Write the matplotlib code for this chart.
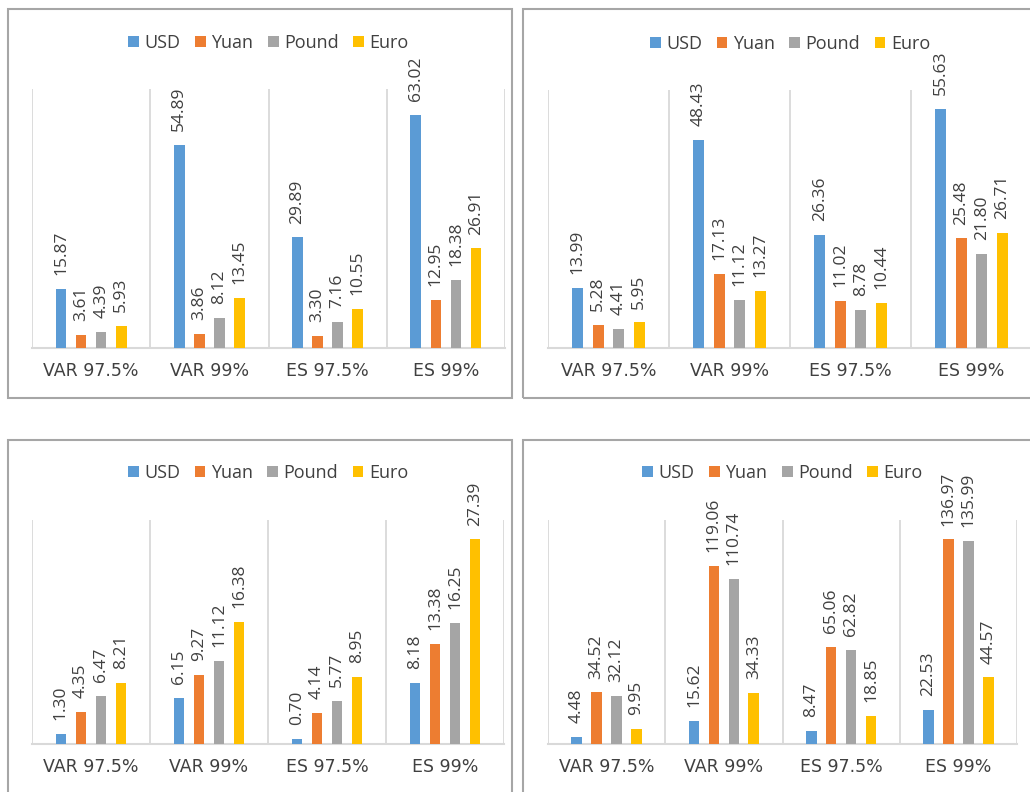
import numpy as np
import matplotlib.pyplot as plt
from matplotlib.patches import Rectangle

categories = ['VAR 97.5%', 'VAR 99%', 'ES 97.5%', 'ES 99%']
currencies = ['USD', 'Yuan', 'Pound', 'Euro']
colors = ['#5B9BD5', '#ED7D31', '#A5A5A5', '#FFC000']

# top left
tlUSD = [15.87, 54.89, 29.89, 63.02]
tlYuan = [3.61, 3.86, 3.30, 12.95]
tlPound = [4.39, 8.12, 7.16, 18.38]
tlEuro = [5.93, 13.45, 10.55, 26.91]

# top right
trUSD = [13.99, 48.43, 26.36, 55.63]
trYuan = [5.28, 17.13, 11.02, 25.48]
trPound = [4.41, 11.12, 8.78, 21.80]
trEuro = [5.95, 13.27, 10.44, 26.71]

# bottom left
blUSD = [1.30, 6.15, 0.70, 8.18]
blYuan = [4.35, 9.27, 4.14, 13.38]
blPound = [6.47, 11.12, 5.77, 16.25]
blEuro = [8.21, 16.38, 8.95, 27.39]

# bottom right
brUSD = [4.48, 15.62, 8.47, 22.53]
brYuan = [34.52, 119.06, 65.06, 136.97]
brPound = [32.12, 110.74, 62.82, 135.99]
brEuro = [9.95, 34.33, 18.85, 44.57]

W, H = 1030.0, 792.0
labelColor = '#404040'
gridColor = '#D9D9D9'


def pxAxes(fig, left, right, top, base):
  return fig.add_axes([left / W, (H - base) / H, (right - left) / W, (base - top) / H])


def drawPanel(ax, series, ymax, legendY):
  x = np.arange(len(categories))
  step = 0.17
  width = 0.09
  for i, vals in enumerate(series):
    pos = x + (i - 1.5) * step
    bars = ax.bar(pos, vals, width, color=colors[i], label=currencies[i], zorder=3)
    for b, v in zip(bars, vals):
      ax.annotate('%.2f' % v, (b.get_x() + b.get_width() / 2, v), xytext=(0, 10),
                  textcoords='offset points', rotation=90, ha='center', va='bottom',
                  fontsize=12.5, family='Open Sans', color=labelColor)
  ax.set_xlim(-0.5, len(categories) - 0.5)
  ax.set_ylim(0, ymax)
  for g in np.arange(-0.5, len(categories), 1.0):
    ax.axvline(g, color=gridColor, lw=1.3, zorder=1)
  for s in ['top', 'left', 'right']:
    ax.spines[s].set_visible(False)
  ax.spines['bottom'].set_color(gridColor)
  ax.spines['bottom'].set_linewidth(1.5)
  ax.set_yticks([])
  ax.set_xticks(x)
  ax.set_xticklabels(categories, fontsize=12.5, family='DejaVu Sans', color=labelColor)
  ax.tick_params(axis='x', length=0, pad=10)
  ax.legend(loc='center', bbox_to_anchor=(0.5, legendY), ncol=4, frameon=False,
            prop={'family': 'Open Sans', 'size': 13}, handlelength=0.6, handleheight=0.6,
            handletextpad=0.3, columnspacing=0.8, labelcolor=labelColor)


fig = plt.figure(figsize=(10.3, 7.92), dpi=100)

# panel borders
for (l, t, r, b) in [(8, 9, 512, 398), (523, 9, 1045, 398), (8, 440, 512, 800), (523, 440, 1045, 800)]:
  fig.patches.append(Rectangle((l / W, (H - b) / H), (r - l) / W, (b - t) / H, transform=fig.transFigure,
                               fill=False, edgecolor='#A6A6A6', lw=1.5))

ax1 = pxAxes(fig, 32, 505, 89, 348)
drawPanel(ax1, [tlUSD, tlYuan, tlPound, tlEuro], 70, 1.178)

ax2 = pxAxes(fig, 548, 1032, 90, 348)
drawPanel(ax2, [trUSD, trYuan, trPound, trEuro], 60, 1.178)

ax3 = pxAxes(fig, 32, 504, 520, 744)
drawPanel(ax3, [blUSD, blYuan, blPound, blEuro], 30, 1.21)

ax4 = pxAxes(fig, 548, 1017, 520, 744)
drawPanel(ax4, [brUSD, brYuan, brPound, brEuro], 150, 1.21)

plt.savefig('out.png', dpi=100)
